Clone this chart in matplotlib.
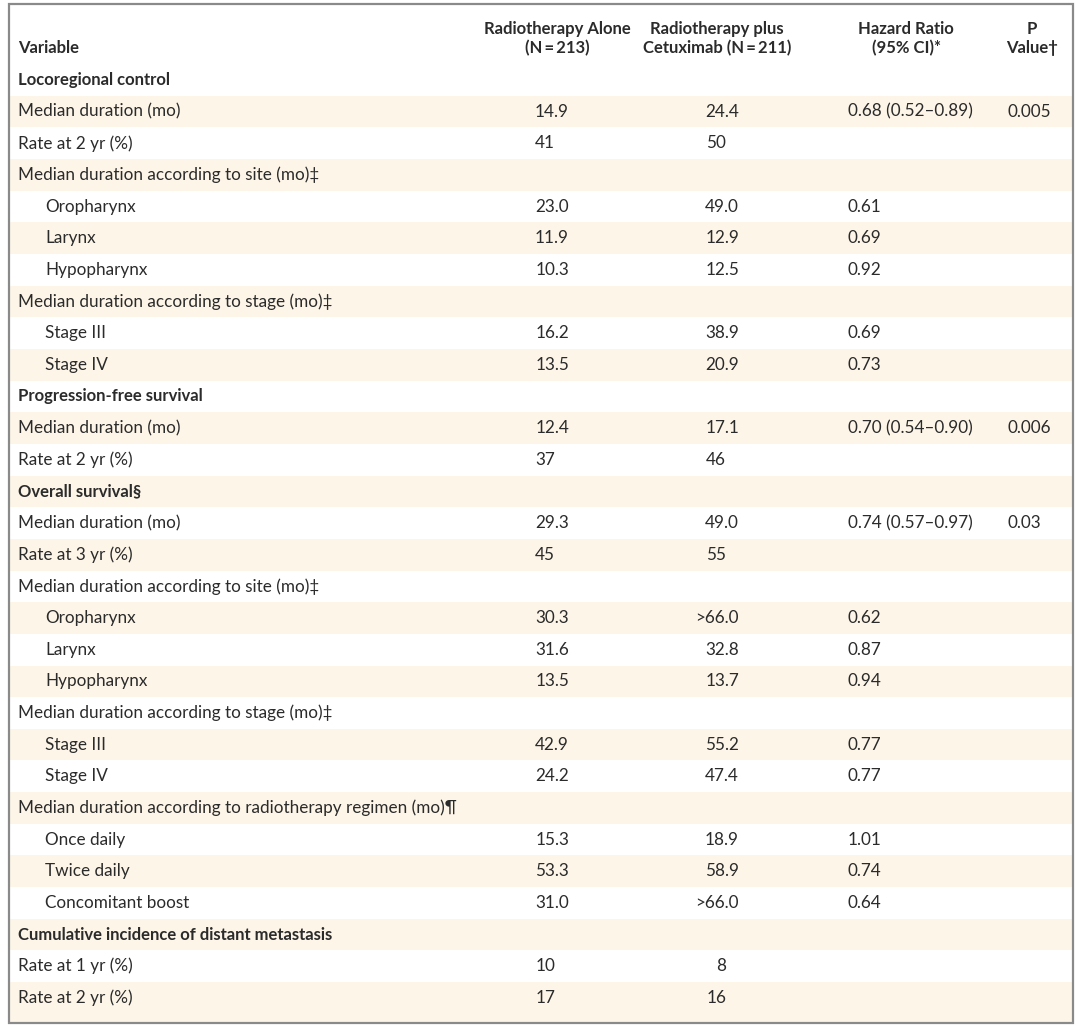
import matplotlib
matplotlib.use('Agg')
import matplotlib.pyplot as plt
from matplotlib.patches import Rectangle

plt.rcParams['font.family'] = ['Lato', 'DejaVu Sans']

# table content
variables = ['Locoregional control', 'Median duration (mo)', 'Rate at 2 yr (%)',
             'Median duration according to site (mo)\u2021', 'Oropharynx', 'Larynx', 'Hypopharynx',
             'Median duration according to stage (mo)\u2021', 'Stage III', 'Stage IV',
             'Progression-free survival', 'Median duration (mo)', 'Rate at 2 yr (%)',
             'Overall survival\u00a7', 'Median duration (mo)', 'Rate at 3 yr (%)',
             'Median duration according to site (mo)\u2021', 'Oropharynx', 'Larynx', 'Hypopharynx',
             'Median duration according to stage (mo)\u2021', 'Stage III', 'Stage IV',
             'Median duration according to radiotherapy regimen (mo)\u00b6',
             'Once daily', 'Twice daily', 'Concomitant boost',
             'Cumulative incidence of distant metastasis', 'Rate at 1 yr (%)', 'Rate at 2 yr (%)']
indent = [0, 0, 0, 0, 1, 1, 1, 0, 1, 1, 0, 0, 0, 0, 0, 0, 0, 1, 1, 1, 0, 1, 1, 0, 1, 1, 1, 0, 0, 0]
bold = [1, 0, 0, 0, 0, 0, 0, 0, 0, 0, 1, 0, 0, 1, 0, 0, 0, 0, 0, 0, 0, 0, 0, 0, 0, 0, 0, 1, 0, 0]
rt_alone = ['', '14.9', '41', '', '23.0', '11.9', '10.3', '', '16.2', '13.5',
            '', '12.4', '37', '', '29.3', '45', '', '30.3', '31.6', '13.5',
            '', '42.9', '24.2', '', '15.3', '53.3', '31.0', '', '10', '17']
rt_cetux = ['', '24.4', '50', '', '49.0', '12.9', '12.5', '', '38.9', '20.9',
            '', '17.1', '46', '', '49.0', '55', '', '>66.0', '32.8', '13.7',
            '', '55.2', '47.4', '', '18.9', '58.9', '>66.0', '', '8', '16']
hazard = ['', '0.68 (0.52\u20130.89)', '', '', '0.61', '0.69', '0.92', '', '0.69', '0.73',
          '', '0.70 (0.54\u20130.90)', '', '', '0.74 (0.57\u20130.97)', '', '', '0.62', '0.87', '0.94',
          '', '0.77', '0.77', '', '1.01', '0.74', '0.64', '', '', '']
pvalue = ['', '0.005', '', '', '', '', '', '', '', '',
          '', '0.006', '', '', '0.03', '', '', '', '', '',
          '', '', '', '', '', '', '', '', '', '']
headers = [('Radiotherapy Alone', '(N\u2009=\u2009213)'),
           ('Radiotherapy plus', 'Cetuximab (N\u2009=\u2009211)'),
           ('Hazard Ratio', '(95% CI)*'),
           ('P', 'Value\u2020')]

W, H = 1080, 1033
fig = plt.figure(figsize=(W / 100, H / 100), dpi=100)
ax = fig.add_axes([0, 0, 1, 1])
ax.set_xlim(0, W)
ax.set_ylim(H, 0)
ax.axis('off')

txt = '#2b2b2b'
shade = '#fdf5e8'
fs, fsb = 12.3, 12.0
x0, x1, top, bot = 9, 1073, 4, 1023
y_first, dy = 80, 31.65
x_var, x_ind = 18, 45
# right edges: (integer values, values with one decimal)
col2_end = (555, 569)
col3_end = (726, 739)
x_hr, x_p = 848, 1008
hdr_x = [557, 717, 906, 1032]

# shaded bands
for i in range(len(variables)):
    yc = y_first + i * dy
    if i % 2 == 1:
        y_hi = bot if i == len(variables) - 1 else yc + dy / 2
        ax.add_patch(Rectangle((x0, yc - dy / 2), x1 - x0, y_hi - (yc - dy / 2),
                               facecolor=shade, edgecolor='none', zorder=0))

# frame
ax.add_patch(Rectangle((x0, top), x1 - x0, bot - top, facecolor='none',
                       edgecolor='#8a8a8a', lw=1.6, zorder=3))

# header
ax.text(x_var, 48, 'Variable', fontsize=fsb, fontweight='bold', color=txt, va='center', ha='left')
for (l1, l2), hx in zip(headers, hdr_x):
    ax.text(hx, 29, l1, fontsize=fsb, fontweight='bold', color=txt, va='center', ha='center')
    ax.text(hx, 48, l2, fontsize=fsb, fontweight='bold', color=txt, va='center', ha='center')


def num_text(ends, y, s):
    if s:
        ax.text(ends[1] if '.' in s else ends[0], y, s, fontsize=fs, color=txt,
                va='center', ha='right')


for i, name in enumerate(variables):
    yc = y_first + i * dy
    ax.text(x_ind if indent[i] else x_var, yc, name,
            fontsize=fsb if bold[i] else fs,
            fontweight='bold' if bold[i] else 'normal', color=txt, va='center', ha='left')
    num_text(col2_end, yc, rt_alone[i])
    num_text(col3_end, yc, rt_cetux[i])
    if hazard[i]:
        ax.text(x_hr, yc, hazard[i], fontsize=fs, color=txt, va='center', ha='left')
    if pvalue[i]:
        ax.text(x_p, yc, pvalue[i], fontsize=fs, color=txt, va='center', ha='left')

fig.savefig('out.png', dpi=100)
